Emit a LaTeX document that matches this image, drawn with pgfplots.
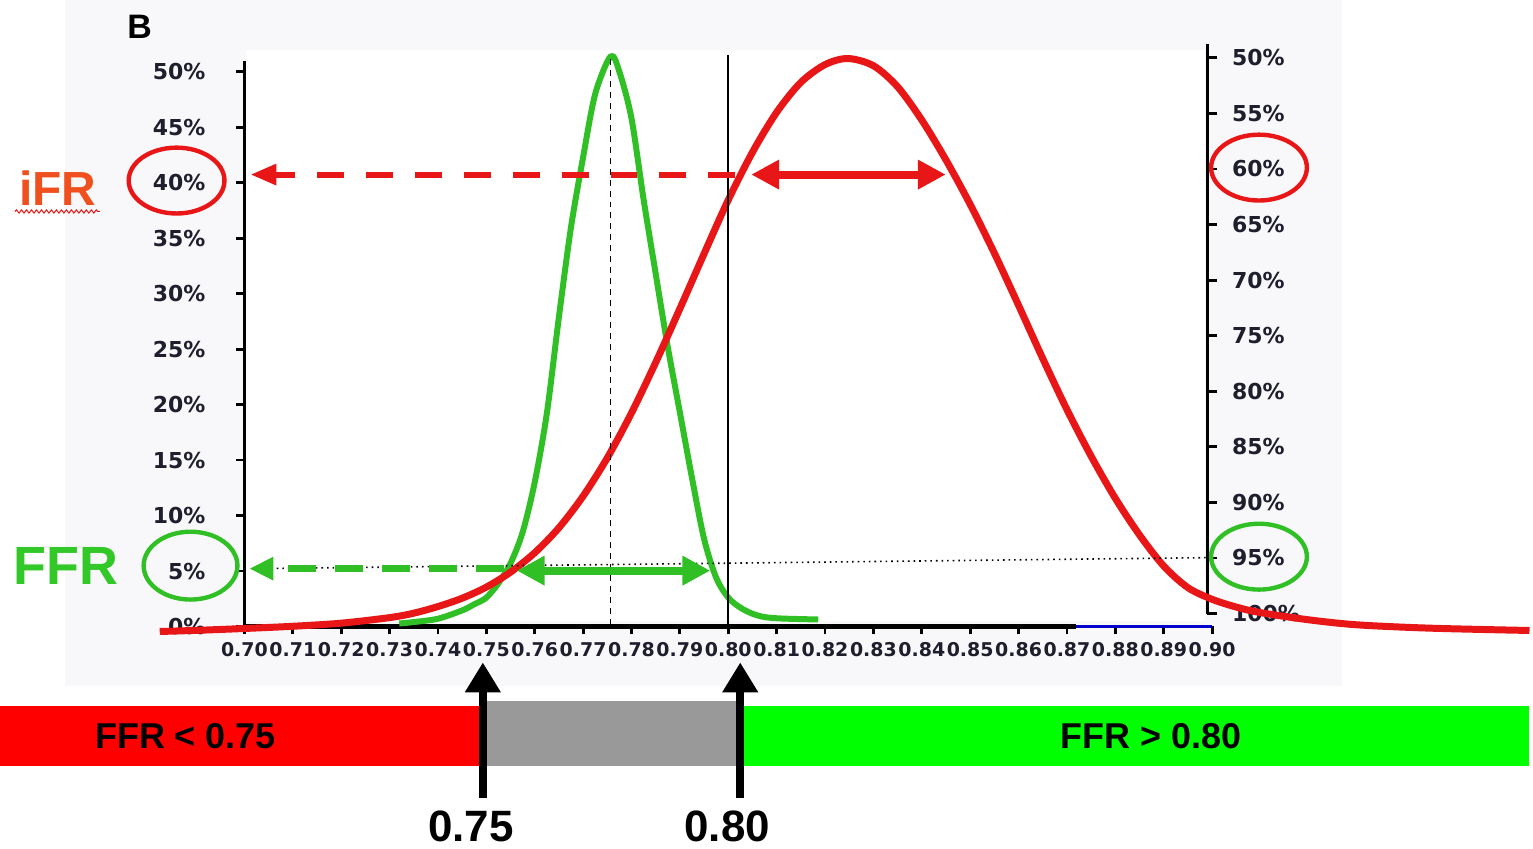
\documentclass[border=0pt]{standalone}
\usepackage{pgfplots}
\pgfplotsset{compat=1.18}
\usepackage{pgfplotstable}
\usepackage{fontspec}
\setmainfont{Liberation Sans}
\newfontfamily\tickfont{DejaVu Sans}
\usetikzlibrary{arrows.meta,decorations.pathmorphing}

\definecolor{cred}{RGB}{232,22,22}
\definecolor{cgreen}{RGB}{48,192,38}
\definecolor{ifr}{RGB}{240,80,30}
\definecolor{ffrg}{RGB}{50,200,40}
\definecolor{barred}{RGB}{255,0,0}
\definecolor{bargrey}{RGB}{153,153,153}
\definecolor{bargreen}{RGB}{0,255,0}
\definecolor{scan}{RGB}{248,248,250}
\definecolor{ink}{RGB}{30,30,45}

% iFR distribution (left axis, %)
\pgfplotstableread{
x y
0.6825 -0.45
0.690 -0.35
0.700 -0.18
0.710 0.02
0.720 0.30
0.730 0.80
0.735 1.20
0.740 1.80
0.745 2.55
0.750 3.55
0.755 4.90
0.760 6.65
0.765 8.90
0.770 11.75
0.775 15.20
0.780 19.25
0.785 23.80
0.790 28.65
0.795 33.60
0.800 38.45
0.805 42.75
0.810 46.35
0.815 49.05
0.820 50.65
0.8247 51.20
0.830 50.55
0.835 48.65
0.840 45.65
0.845 42.05
0.850 38.05
0.855 33.65
0.860 28.95
0.865 24.15
0.870 19.55
0.875 15.35
0.880 11.55
0.885 8.25
0.890 5.45
0.895 3.50
0.900 2.45
0.905 1.75
0.910 1.25
0.920 0.60
0.930 0.15
0.945 -0.15
0.9656 -0.36
}\redcurve

% FFR distribution
\pgfplotstableread{
x y
0.732 0.27
0.735 0.40
0.740 0.70
0.745 1.45
0.7475 2.00
0.750 2.60
0.7525 3.90
0.755 5.70
0.7575 8.50
0.760 13.00
0.7625 19.20
0.765 27.90
0.7675 36.00
0.770 42.30
0.7725 48.00
0.7757 51.40
0.7775 50.00
0.780 45.80
0.7825 38.50
0.785 31.80
0.7875 25.20
0.790 19.30
0.7925 13.40
0.795 7.90
0.7975 4.40
0.800 2.60
0.8025 1.70
0.805 1.15
0.8075 0.85
0.811 0.72
0.8186 0.63
}\greencurve

\begin{document}
\begin{tikzpicture}
% background, in pixel units of the reference
\begin{scope}[shift={(-122.5pt,314pt)},x=0.5pt,y=-0.5pt]
\path[use as bounding box] (0,0) rectangle (1533,848);
\fill[scan] (65,0) rectangle (1345,688);
\fill[white] (247,50) rectangle (1208,622);
\fill[barred] (0,708) rectangle (484,768);
\fill[bargrey] (484,703) rectangle (745,768);
\fill[bargreen] (745,708) rectangle (1533,768);
\end{scope}

% right axis (reversed)
\begin{axis}[
    at={(-2.5pt,6.5pt)}, anchor=south west,
    scale only axis, width=485pt, height=285.2pt,
    xmin=0.70, xmax=0.90, ymin=48.8, ymax=100,
    y dir=reverse,
    axis x line=none, axis y line*=right,
    ytick={50,55,60,65,70,75,80,85,90,95,100},
    yticklabels={50\%,55\%,60\%,65\%,70\%,75\%,80\%,85\%,90\%,95\%,100\%},
    tick align=outside, major tick length=5pt,
    every tick/.style={line width=1.4pt, black},
    y axis line style={line width=1.6pt},
    yticklabel style={font=\tickfont\bfseries\fontsize{11}{11}\selectfont,
        text=ink, xshift=4pt},
]
\addplot[draw=none] coordinates {(0.8,75)};
\end{axis}

% main axis
\begin{axis}[
    at={(0pt,0pt)}, anchor=south west,
    scale only axis, width=485pt, height=283.56pt,
    xmin=0.70, xmax=0.90, ymin=0, ymax=51,
    clip=false,
    axis x line*=bottom, axis y line*=left,
    x axis line style={draw=none},
    y axis line style={line width=1.6pt},
    xtick={0.70,0.71,0.72,0.73,0.74,0.75,0.76,0.77,0.78,0.79,0.80,0.81,0.82,0.83,0.84,0.85,0.86,0.87,0.88,0.89,0.90},
    xticklabels={0.70,0.71,0.72,0.73,0.74,0.75,0.76,0.77,0.78,0.79,0.80,0.81,0.82,0.83,0.84,0.85,0.86,0.87,0.88,0.89,0.90},
    ytick={0,5,10,15,20,25,30,35,40,45,50},
    yticklabels={0\%,5\%,10\%,15\%,20\%,25\%,30\%,35\%,40\%,45\%,50\%},
    tick align=outside, major tick length=4pt,
    every tick/.style={line width=1.4pt, black},
    xticklabel style={font=\tickfont\bfseries\fontsize{9.5}{9.5}\selectfont, text=ink, yshift=-0.5pt},
    yticklabel style={font=\tickfont\bfseries\fontsize{11}{11}\selectfont, text=ink, xshift=-12pt},
]
\draw[black, line width=2.5pt] (axis cs:0.70,0) -- (axis cs:0.8718,0);
\draw[blue!80!black, line width=1.2pt] (axis cs:0.8718,0) -- (axis cs:0.90,0);
\addplot[cgreen, line width=3pt, smooth, line join=round] table {\greencurve};
\addplot[cred, line width=3.5pt, smooth, line join=round] table {\redcurve};
\end{axis}

% annotations, in pixel units of the reference
\begin{scope}[shift={(-122.5pt,314pt)},x=0.5pt,y=-0.5pt]
\draw[black, line width=0.8pt, dash pattern=on 3pt off 2.5pt] (612,626) -- (612,58);
\draw[black, line width=0.8pt] (730,626) -- (730,55);
\draw[black, line width=0.8pt, dotted] (255,570) -- (1210,559);

\draw[cgreen, line width=3.5pt, dash pattern=on 14pt off 9.5pt,
    -{Triangle[length=12pt,width=11pt]}] (505,570) -- (250,570);
\draw[cgreen, line width=4pt,
    {Triangle[length=14pt,width=14pt]}-{Triangle[length=14pt,width=14pt]}] (518,572) -- (712,572);
\draw[cred, line width=3pt, dash pattern=on 13.5pt off 11pt,
    -{Triangle[length=13pt,width=10pt]}] (737,175) -- (251,175);
\draw[cred, line width=4pt,
    {Triangle[length=14pt,width=14pt]}-{Triangle[length=14pt,width=14pt]}] (753,175) -- (948,175);

\draw[cred, line width=2.2pt] (177,181) ellipse [x radius=48, y radius=33];
\draw[cred, line width=2.2pt] (1262,168) ellipse [x radius=48, y radius=33];
\draw[cgreen, line width=2.2pt] (191,567) ellipse [x radius=47, y radius=34];
\draw[cgreen, line width=2.2pt] (1262,558) ellipse [x radius=48, y radius=33];

\node[font=\bfseries\fontsize{17}{17}\selectfont] at (140,27) {B};
\node[text=ifr, font=\bfseries\fontsize{24}{24}\selectfont] at (58,189) {iFR};
\draw[cred, line width=0.5pt, decorate,
    decoration={snake, amplitude=0.8pt, segment length=2.5pt}] (15,212) -- (100,212);
\node[text=ffrg, font=\bfseries\fontsize{27}{27}\selectfont] at (66,567) {FFR};

\node[font=\bfseries\fontsize{18}{18}\selectfont] at (186,738) {FFR < 0.75};
\node[font=\bfseries\fontsize{18}{18}\selectfont] at (1154,738) {FFR > 0.80};

\draw[black, line width=4pt, -{Triangle[length=15pt,width=17pt]}] (484,800) -- (484,664);
\draw[black, line width=4pt, -{Triangle[length=15pt,width=17pt]}] (742,800) -- (742,664);
\node[font=\bfseries\fontsize{22}{22}\selectfont] at (472,828) {0.75};
\node[font=\bfseries\fontsize{22}{22}\selectfont] at (729,828) {0.80};
\end{scope}
\end{tikzpicture}
\end{document}
